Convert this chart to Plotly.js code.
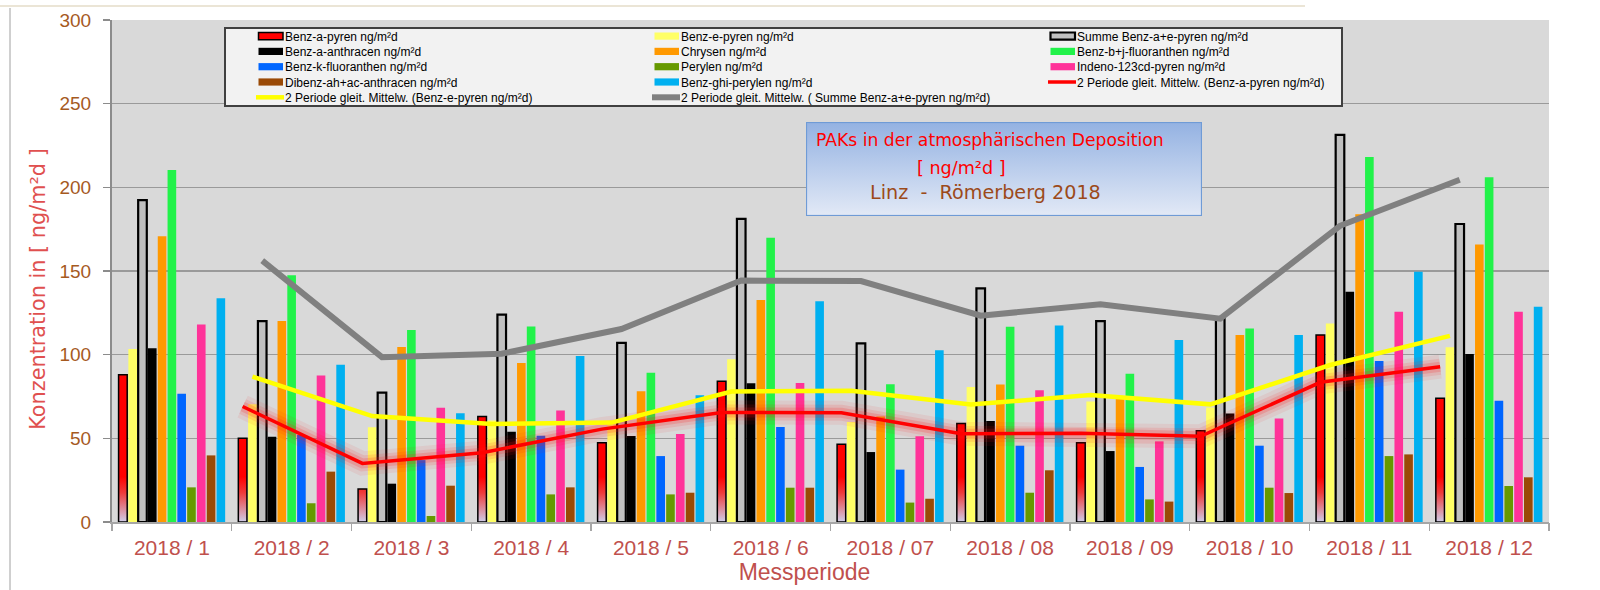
<!DOCTYPE html>
<html><head><meta charset="utf-8">
<script src="https://cdn.plot.ly/plotly-3.0.1.min.js"></script>
<style>html,body{margin:0;padding:0;background:#fff}#chart{width:1600px;height:590px}</style>
</head><body><div id="chart"></div>
<script>
// ---------- data ----------
const categories = ['2018 / 1','2018 / 2','2018 / 3','2018 / 4','2018 / 5','2018 / 6','2018 / 07','2018 / 08','2018 / 09','2018 / 10','2018 / 11','2018 / 12'];
const benzAPyren        = [88, 50, 19.7, 63, 47.4, 84.1, 46.4, 58.8, 47.4, 54.6, 111.8, 73.9];
const benzEPyren        = [103.4, 70.4, 56.6, 60.6, 58.2, 97.2, 59.8, 80.7, 72, 68.5, 118.7, 104.4];
const summeBenzAE       = [192.4, 120.1, 77.3, 123.9, 107, 181.1, 106.8, 139.6, 120.1, 121.5, 231.3, 178.1];
const benzAAnthracen    = [103.8, 51, 22.9, 54, 51.4, 82.9, 41.8, 60.4, 42.4, 64.9, 137.6, 100.4];
const chrysen           = [170.7, 120.1, 104.6, 95, 78.1, 132.7, 63, 82.1, 73.5, 111.8, 183.9, 165.9];
const benzBJFluoranthen = [210.4, 147.4, 114.7, 116.9, 89.2, 169.9, 82.3, 116.7, 88.6, 115.7, 218.1, 206];
const benzKFluoranthen  = [76.7, 52, 37, 51.6, 39.4, 56.8, 31.3, 45.6, 32.9, 45.6, 96.2, 72.5];
const perylen           = [20.7, 11.2, 3.6, 16.5, 16.5, 20.5, 11.6, 17.5, 13.5, 20.5, 39.4, 21.5];
const indeno123cdPyren  = [118.1, 87.5, 68.3, 66.7, 52.6, 83.1, 51.2, 78.7, 48.2, 61.8, 125.7, 125.7];
const dibenzAnthracen   = [39.8, 30.1, 21.7, 20.7, 17.5, 20.5, 13.9, 30.9, 12.2, 17.3, 40.4, 26.7];
const benzGhiPerylen    = [133.7, 94, 65, 99.2, 75.7, 131.9, 102.6, 117.5, 108.8, 111.8, 149.6, 128.7];
// 2-period moving averages as drawn in the reference
const maBenzAPyren = [null, 69, 35, 41.4, 55.5, 65.5, 65.3, 52.8, 53, 51.2, 83.5, 92.8];
const maBenzEPyren = [null, 86.9, 63.3, 58.6, 59.4, 78, 78.5, 70.2, 75.9, 70.3, 93.8, 111.2];
const maSumme      = [null, 156.2, 98.5, 100.6, 115.3, 144.3, 144, 123.3, 130.1, 121.5, 177, 204.5];

// ---------- styling ----------
const SANS = '"Liberation Sans", Arial, sans-serif';
const VERD = '"DejaVu Sans", Verdana, sans-serif';
const PL = 112, PR = 1549, PT = 20, PB = 522;
const px = v => (v - PL) / (PR - PL);
const py = v => (PB - v) / (PB - PT);

const idx = categories.map((c, i) => i);
const bounds = categories.map((c, i) => i - 0.5).concat([categories.length - 0.5]);

const barSeries = [
  {name:'Benz-a-pyren ng/m²d', y:benzAPyren, color:'#ff0000', line:{color:'#000', width:1.5}},
  {name:'Benz-e-pyren ng/m²d', y:benzEPyren, color:'#ffff66'},
  {name:'Summe Benz-a+e-pyren ng/m²d', y:summeBenzAE, color:'#c0c0c0', line:{color:'#000', width:2.2}},
  {name:'Benz-a-anthracen ng/m²d', y:benzAAnthracen, color:'#000000'},
  {name:'Chrysen ng/m²d', y:chrysen, color:'#ff9900'},
  {name:'Benz-b+j-fluoranthen ng/m²d', y:benzBJFluoranthen, color:'#22f24a'},
  {name:'Benz-k-fluoranthen ng/m²d', y:benzKFluoranthen, color:'#0066ff'},
  {name:'Perylen ng/m²d', y:perylen, color:'#669900'},
  {name:'Indeno-123cd-pyren ng/m²d', y:indeno123cdPyren, color:'#ff3399'},
  {name:'Dibenz-ah+ac-anthracen ng/m²d', y:dibenzAnthracen, color:'#9a4a06'},
  {name:'Benz-ghi-perylen ng/m²d', y:benzGhiPerylen, color:'#00b0f0'}
];
const BARGAP = 0.1, NS = barSeries.length;
const slotOffset = s => (s - (NS - 1) / 2) * (1 - BARGAP) / NS;

const traces = barSeries.map(s => ({
  type:'bar', name:s.name, x:idx, y:s.y,
  marker:{color:s.color, line:s.line || {width:0}},
  hoverinfo:'name+y'
}));

const lineX = s => idx.map(i => i + slotOffset(s));
// soft glow under the red moving average
[[24, 0.07], [16, 0.11], [10, 0.18]].forEach(([w, a]) => traces.push({
  type:'scatter', mode:'lines', x:lineX(0), y:maBenzAPyren, xaxis:'x2',
  line:{color:`rgba(255,20,20,${a})`, width:w}, showlegend:false, hoverinfo:'skip'}));
traces.push({type:'scatter', mode:'lines', name:'2 Periode gleit. Mittelw. (Benz-a-pyren ng/m²d)',
  x:lineX(0), y:maBenzAPyren, xaxis:'x2', line:{color:'#ff0000', width:3.5}});
traces.push({type:'scatter', mode:'lines', name:'2 Periode gleit. Mittelw. (Benz-e-pyren ng/m²d)',
  x:lineX(1), y:maBenzEPyren, xaxis:'x2', line:{color:'#ffff00', width:4.5}});
traces.push({type:'scatter', mode:'lines', name:'2 Periode gleit. Mittelw. ( Summe Benz-a+e-pyren ng/m²d)',
  x:lineX(2), y:maSumme, xaxis:'x2', line:{color:'#808080', width:6}});

const boxW = 1202 - 806, boxH = 216 - 122;
const svg = `<svg xmlns='http://www.w3.org/2000/svg' width='${boxW}' height='${boxH}'><defs><linearGradient id='g' x1='0' y1='0' x2='0' y2='1'><stop offset='0' stop-color='#94b2e2'/><stop offset='1' stop-color='#e2e9f6'/></linearGradient></defs><rect x='0.5' y='0.5' width='${boxW-1}' height='${boxH-1}' fill='url(#g)' stroke='#6f9bd6' stroke-width='1.2'/></svg>`;

const layout = {
  width:1600, height:590,
  margin:{l:PL, r:1600-PR, t:PT, b:590-PB, pad:0},
  paper_bgcolor:'#ffffff', plot_bgcolor:'#d9d9d9',
  barmode:'group', bargap:BARGAP, bargroupgap:0.12,
  font:{family:SANS, color:'#000'},
  showlegend:true,
  xaxis:{range:[-0.5, categories.length-0.5], tickmode:'array', tickvals:idx, ticktext:categories,
    ticks:'', showgrid:false, zeroline:false, showline:true, linecolor:'#a6a6a6', linewidth:1.5,
    tickfont:{size:21, color:'#c0504d', family:SANS}, ticklabelstandoff:6,
    title:{text:'Messperiode', font:{size:23, color:'#c0504d', family:SANS}, standoff:0},
    fixedrange:true},
  xaxis2:{overlaying:'x', anchor:'y', side:'bottom', range:[-0.5, categories.length-0.5],
    tickmode:'array', tickvals:bounds, ticks:'outside', ticklen:8, tickcolor:'#a6a6a6', tickwidth:1.2,
    showticklabels:false, showgrid:false, zeroline:false, showline:false, fixedrange:true},
  yaxis:{range:[0,300], tick0:0, dtick:50, ticks:'outside', ticklen:7, tickcolor:'#8c8c8c', tickwidth:1.5,
    showline:true, linecolor:'#8c8c8c', linewidth:2, gridcolor:'#9a9a9a', gridwidth:1.5, zeroline:false,
    tickfont:{size:19, color:'#a65a1f'}, ticklabelstandoff:8,
    title:{text:'Konzentration in [ ng/m²d ]', font:{size:20.8, color:'#e0504f', family:VERD}, standoff:8},
    fixedrange:true},
  legend:{orientation:'h', x:px(224), xanchor:'left', y:py(27), yanchor:'top',
    bgcolor:'#f2f2f2', bordercolor:'#404040', borderwidth:2,
    font:{size:12, family:SANS, color:'#000'}, entrywidth:351, entrywidthmode:'pixels',
    traceorder:'normal', itemwidth:30, tracegroupgap:0},
  images:[{source:'data:image/svg+xml;charset=utf-8,' + encodeURIComponent(svg),
    xref:'paper', yref:'paper', x:px(806), y:py(122), sizex:boxW/(PR-PL), sizey:boxH/(PB-PT),
    xanchor:'left', yanchor:'top', sizing:'stretch', layer:'above'}],
  annotations:[
    {text:'PAKs in der atmosphärischen Deposition', xref:'paper', yref:'paper', x:px(814), y:py(140),
      xanchor:'left', yanchor:'middle', showarrow:false, font:{family:VERD, size:17.2, color:'#ff0000'}},
    {text:'[ ng/m²d ]', xref:'paper', yref:'paper', x:px(915), y:py(168),
      xanchor:'left', yanchor:'middle', showarrow:false, font:{family:VERD, size:17.6, color:'#ff0000'}},
    {text:'Linz  -  Römerberg 2018', xref:'paper', yref:'paper', x:px(868), y:py(192),
      xanchor:'left', yanchor:'middle', showarrow:false, font:{family:VERD, size:19.2, color:'#9c4a1a'}}
  ],
  shapes:[
    {type:'line', xref:'paper', yref:'paper', x0:px(10), x1:px(10), y0:py(8), y1:py(590), line:{color:'#a0a0a0', width:1}},
    {type:'line', xref:'paper', yref:'paper', x0:px(0), x1:px(1305), y0:py(6), y1:py(6), line:{color:'#e4dcc8', width:1.5}}
  ]
};

// compact the legend rows / swatches to the reference's Excel-like layout,
// nudge the axis titles, and give the Benz-a-pyren bars their faded base
function finishLayout(gd) {
  const leg = gd.querySelector('g.legend');
  if (leg) {
    const items = Array.from(leg.querySelectorAll('g.traces'));
    const tr = el => { const m = /translate\(\s*([-\d.eE]+)[\s,]+([-\d.eE]+)/.exec(el.getAttribute('transform') || ''); return m ? [+m[1], +m[2]] : [0, 0]; };
    const key = v => Math.round(v * 10) / 10;
    const ys = Array.from(new Set(items.map(e => key(tr(e)[1])))).sort((a, b) => a - b);
    items.forEach(e => {
      const [x, y] = tr(e);
      const r = ys.indexOf(key(y));
      e.setAttribute('transform', `translate(${x},${ys[0] - 7.4 + 15.3 * r})`);
      const t = e.querySelector('text.legendtext');
      if (t) { t.setAttribute('x', 59); t.querySelectorAll('tspan[x]').forEach(s => s.setAttribute('x', 59)); }
      e.querySelectorAll('.legendpoints path').forEach(p => { p.setAttribute('d', 'M32.5,-3.6H57V3.6H32.5Z'); p.setAttribute('transform', 'translate(0,0)'); });
      e.querySelectorAll('.legendlines path').forEach(p => p.setAttribute('d', 'M30,0h28'));
    });
    const bg = leg.querySelector('rect.bg');
    if (bg) { bg.setAttribute('height', 78); bg.setAttribute('width', 1117); }
  }
  const xt = gd.querySelector('text.xtitle');
  if (xt) xt.setAttribute('x', +xt.getAttribute('x') - 26);
  const yt = gd.querySelector('text.ytitle');
  if (yt) {
    const x = +yt.getAttribute('x'), y = +yt.getAttribute('y') + 18;
    yt.setAttribute('y', y);
    yt.setAttribute('transform', `rotate(-90,${x},${y})`);
  }
  // vertical fade (red -> pale lavender) near the base of the Benz-a-pyren bars
  const NS_SVG = 'http://www.w3.org/2000/svg';
  const mainSvg = gd.querySelector('svg.main-svg');
  const barTrace = gd.querySelector('.barlayer .trace');
  if (mainSvg && barTrace) {
    let defs = mainSvg.querySelector('defs');
    if (!defs) { defs = document.createElementNS(NS_SVG, 'defs'); mainSvg.insertBefore(defs, mainSvg.firstChild); }
    const ya = gd._fullLayout.yaxis;
    const grad = document.createElementNS(NS_SVG, 'linearGradient');
    grad.setAttribute('id', 'bapFade');
    grad.setAttribute('gradientUnits', 'userSpaceOnUse');
    grad.setAttribute('x1', 0); grad.setAttribute('x2', 0);
    grad.setAttribute('y1', ya.l2p(27)); grad.setAttribute('y2', ya.l2p(0));
    [['0', '#ff0000'], ['0.35', '#ee3a3a'], ['1', '#cfcde8']].forEach(([o, c]) => {
      const s = document.createElementNS(NS_SVG, 'stop');
      s.setAttribute('offset', o); s.setAttribute('stop-color', c); grad.appendChild(s);
    });
    defs.appendChild(grad);
    barTrace.querySelectorAll('path').forEach(p => { p.style.fill = 'url(#bapFade)'; });
  }
}

Plotly.newPlot('chart', traces, layout, {displayModeBar:false, staticPlot:true}).then(finishLayout);
</script>
</body></html>
